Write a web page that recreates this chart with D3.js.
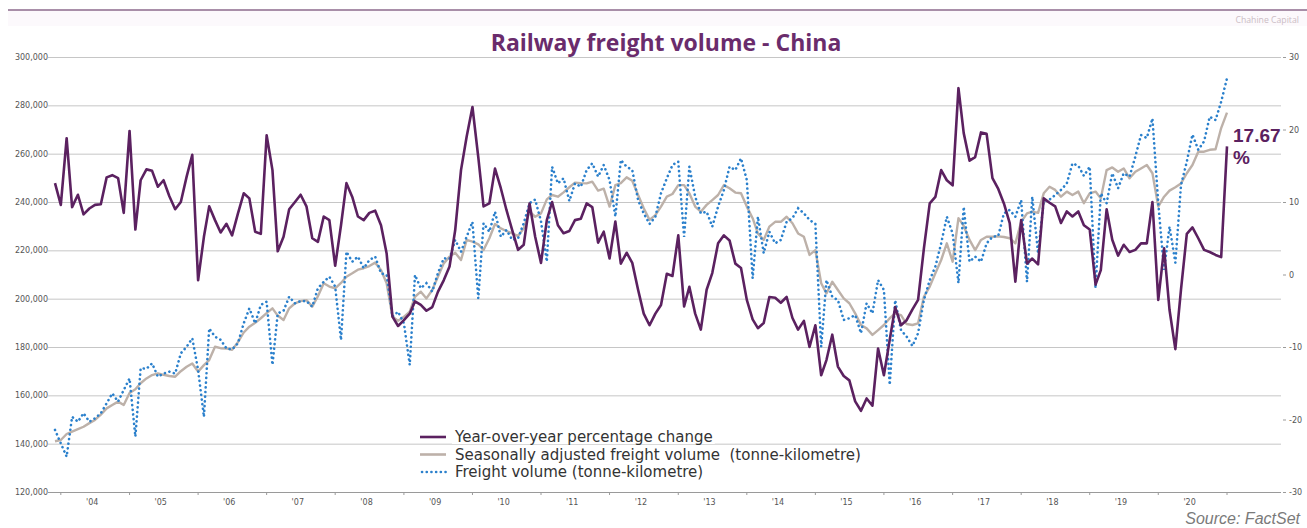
<!DOCTYPE html>
<html>
<head>
<meta charset="utf-8">
<script src="https://cdn.jsdelivr.net/npm/d3@7"></script>
<style>
  html, body { margin: 0; padding: 0; background: #ffffff; }
  svg { display: block; }
  .legend text { white-space: pre; }
</style>
</head>
<body>
<svg id="chart" width="1307" height="528"></svg>
<script>
// Monthly series, first month December 2003
const firstMonth = new Date(2003, 11, 1);

// Year-over-year percentage change (%)
const yoyChange = [
  12.6, 9.6, 18.8, 9.3, 11.0, 8.3, 9.1, 9.6, 9.7, 13.4, 13.7, 13.3,
  8.5, 19.8, 6.2, 13.0, 14.5, 14.3, 12.1, 13.0, 10.8, 9.0, 10.0, 13.5,
  16.5, -0.8, 5.2, 9.4, 7.5, 5.8, 7.0, 5.4, 8.4, 11.2, 10.5, 5.9,
  5.6, 19.2, 14.4, 3.2, 5.2, 9.0, 10.0, 11.0, 9.4, 5.0, 4.5, 8.0,
  7.5, 1.2, 6.8, 12.6, 10.7, 8.0, 7.5, 8.5, 8.8, 6.8, 2.9, -5.8,
  -7.1, -6.3, -5.4, -3.7, -4.2, -5.0, -4.5, -2.4, -0.8, 1.1, 6.1, 14.4,
  19.0, 23.1, 16.2, 9.4, 9.8, 14.6, 11.9, 8.9, 6.1, 3.4, 4.1, 9.8,
  5.2, 1.6, 7.5, 10.0, 6.8, 5.7, 6.0, 7.5, 7.7, 9.8, 9.3, 4.4,
  5.9, 2.2, 7.3, 1.5, 3.0, 1.6, -2.1, -5.4, -7.0, -5.4, -4.2, 0.1,
  -0.2, 5.4, -4.4, -1.7, -5.4, -7.6, -2.1, 0.2, 4.3, 5.4, 4.7, 1.5,
  0.9, -3.5, -6.2, -7.4, -6.7, -3.1, -3.2, -3.9, -3.1, -6.0, -7.6, -6.4,
  -10.0, -7.0, -13.9, -11.8, -8.3, -12.7, -14.0, -14.6, -17.5, -18.8, -17.1, -18.1,
  -10.2, -13.9, -9.0, -4.5, -7.0, -6.3, -4.8, -3.5, 3.6, 9.8, 10.7, 14.4,
  13.0, 12.3, 25.7, 19.5, 15.7, 16.2, 19.6, 19.4, 13.3, 11.8, 9.8, 7.1,
  -1.0, 7.5, 1.5, 2.2, 1.4, 10.5, 9.9, 9.4, 7.1, 8.7, 8.0, 8.7,
  6.8, 6.2, -1.4, 0.6, 9.0, 4.8, 2.6, 4.1, 3.1, 3.4, 4.3, 4.3,
  10.0, -3.5, 3.6, -4.9, -10.3, -2.1, 5.6, 6.5, 5.0, 3.4, 3.1, 2.7,
  2.4, 17.67
];

// Seasonally adjusted freight volume (thousand million tonne-km)
const seasonallyAdjusted = [
  141, 141.5, 144, 145, 146, 147, 148.5, 149.8, 152, 154.6, 156, 157.4,
  156, 161, 162.5, 165, 167, 168.4, 169.1, 168.5, 168, 167.7, 170, 171.8,
  173.2, 169.8, 172.5, 174.6, 180.1, 179.5, 179.4, 178.8, 182, 186, 188.4, 190,
  191.9, 194, 196, 193, 191.2, 196, 198.1, 199, 199.4, 196.7, 201, 206.4,
  205, 204.3, 206.5, 209.1, 210.5, 212, 212.6, 213.5, 214.9, 211.9, 206.4, 192.5,
  190.9, 192.5, 194.6, 200.8, 202.9, 200.1, 203.6, 209.1, 214.6, 217.4, 219.0, 216.0,
  224.3, 223.6, 222.5, 220.1, 225.0, 230.9, 229.1, 228, 227.0, 225.9, 229.1, 236.0,
  233.9, 235.3, 241.1, 242.9, 242.2, 244, 246.1, 248.0, 247.8, 247.7, 248.4, 244.7,
  245.5, 238.1, 247.0, 247.8, 250.2, 248.8, 242.9, 237.4, 232.6, 234.6, 238.1, 242.2,
  243.3, 247.0, 247.0, 243.6, 238.1, 236.0, 238.8, 240.8, 242.9, 247.0, 245.7, 243.9,
  243.6, 238.1, 233.3, 227.0, 224.3, 229.8, 231.8, 231.8, 233.9, 231.2, 227.0, 225.6,
  218.1, 220.1, 206.4, 202.2, 207.0, 203.6, 200.1, 198.1, 193.9, 189.1, 187.7, 185.0,
  187.0, 189.1, 191.9, 193.9, 193.2, 189.5, 189.1, 189.8, 200.8, 205.0, 210.5, 216.0,
  222.9, 215.3, 233.3, 230.1, 224.3, 220.1, 224.3, 225.6, 225.6, 225.8, 225.5, 225.0,
  222.9, 231.8, 235.3, 236.0, 235.5, 243.6, 246.3, 245.0, 242.2, 244.3, 242.9, 244.3,
  239.5, 243.6, 244.3, 241.5, 253.2, 254.3, 252.5, 253.9, 249.8, 252.5, 253.9, 255.3,
  251.9, 238.1, 242.2, 244.7, 246.1, 247.7, 251.9, 255.3, 260.8, 260.8, 261.6, 261.8,
  270.6, 277.0
];

// Freight volume, not adjusted (thousand million tonne-km)
const freightVolume = [
  145.7, 140.1, 134.6, 151.1, 149.1, 152.6, 149.1, 150.5, 152.6, 156.7, 160.8, 157.4,
  162.2, 167.0, 142.9, 171.2, 171, 173.2, 167.7, 169, 169.8, 169, 177.4, 180.1,
  183.6, 170.5, 151.1, 187.7, 184.3, 183, 179.4, 179, 181.5, 189.8, 196.0, 189.8,
  197.4, 198.7, 172.6, 193.9, 195, 200.8, 198.1, 199, 199, 196.7, 204.3, 207.0,
  209.1, 205.0, 182.9, 219.4, 215.3, 217.4, 212.6, 216.0, 217.4, 210.5, 209.8, 192.5,
  194.6, 189.8, 172.6, 209.8, 204.3, 206.4, 202.9, 210.5, 216.7, 216.5, 224.3, 219.4,
  225.6, 231.8, 200.1, 231.2, 227.7, 236.0, 225.6, 228.4, 224.3, 225, 231.2, 239.5,
  241, 232, 215.3, 254.6, 247.7, 249.8, 240.4, 247.7, 246.3, 253.2, 256.0, 250.5,
  255.3, 249.1, 233.9, 257.4, 254.6, 253.2, 240.8, 235.3, 230.9, 233.9, 243.6, 249.8,
  255.3, 256.7, 225.6, 254.6, 242.2, 235.3, 236.0, 229.8, 238.1, 245.0, 254.6, 253.2,
  258.1, 249.1, 208.4, 233.9, 218.8, 227.7, 222.9, 224.3, 231.8, 233.3, 237.4, 235.3,
  232.6, 230.9, 180.1, 207.7, 200.8, 199.4, 191.2, 191.9, 193.2, 185.7, 198.1, 193.9,
  207.7, 203.6, 164.3, 199.4, 187.0, 184.3, 180.4, 185.7, 199.4, 207.7, 213.3, 222.9,
  233.9, 227, 206.4, 238, 215.3, 217.4, 215.3, 222.9, 225.6, 226, 235.3, 236.7,
  233.9, 240.8, 207.0, 242.2, 218.8, 240.4, 241, 242.9, 245, 247.7, 256.0, 255,
  250.8, 254.6, 204.3, 243.6, 239.5, 251.9, 245.7, 251.9, 250.5, 258.8, 267.7, 266.5,
  274.6, 239.5, 211.9, 229.8, 214.9, 247.0, 256.7, 267.9, 261.6, 265.1, 275.3, 273.9,
  281.5, 291.2
];

const leftTicks = [120, 140, 160, 180, 200, 220, 240, 260, 280, 300];
const rightTicks = [-30, -20, -10, 0, 10, 20, 30];
const yearLabels = d3.range(2004, 2021);

const legendItems = [
  { key: "yoy", label: "Year-over-year percentage change" },
  { key: "sa", label: "Seasonally adjusted freight volume  (tonne-kilometre)" },
  { key: "fv", label: "Freight volume (tonne-kilometre)" }
];

const colors = { yoy: "#5b2160", sa: "#bdb1a9", fv: "#2b80cc" };

const months = yoyChange.map((_, i) => d3.timeMonth.offset(firstMonth, i));

const W = 1307, H = 528;
const plot = { left: 52, right: 1281, top: 57, bottom: 492 };

const svg = d3.select("#chart");

// page frame
svg.append("rect").attr("width", W).attr("height", H).attr("fill", "#ffffff");
svg.append("rect").attr("x", 8).attr("y", 10).attr("width", W - 8).attr("height", 16)
  .attr("fill", "#fcf9fc");
svg.append("line").attr("x1", 8).attr("x2", W).attr("y1", 10).attr("y2", 10)
  .attr("stroke", "#8c6a8c").attr("stroke-width", 1.4);

svg.append("text").attr("x", 1299).attr("y", 23).attr("text-anchor", "end")
  .attr("font-family", "Open Sans, sans-serif").attr("font-size", 8.7)
  .attr("fill", "#cbbcc4").text("Chahine Capital");

svg.append("text").attr("x", 666).attr("y", 51).attr("text-anchor", "middle")
  .attr("font-family", "Open Sans, sans-serif").attr("font-weight", 700)
  .attr("font-size", 23).attr("fill", "#6a2c6c")
  .text("Railway freight volume - China");

// scales
const x = d3.scaleTime()
  .domain([months[0], months[months.length - 1]])
  .range([55, 1227]);
const yLeft = d3.scaleLinear().domain([120, 300]).range([plot.bottom, plot.top]);
const yRight = d3.scaleLinear().domain([-30, 30]).range([plot.bottom, plot.top]);

// gridlines and left axis
const leftAxis = d3.axisLeft(yLeft).tickValues(leftTicks)
  .tickSize(-(plot.right - plot.left)).tickPadding(4)
  .tickFormat(d => d3.format(",")(d * 1000));
const gL = svg.append("g").attr("transform", `translate(${plot.left},0)`).call(leftAxis);
gL.select(".domain").remove();
gL.selectAll(".tick line").attr("stroke", "#c6c6c6").attr("stroke-width", 1)
  .attr("x2", plot.right - plot.left).attr("x1", -4);
gL.selectAll(".tick text").attr("font-family", "DejaVu Sans, sans-serif")
  .attr("font-size", 8).attr("fill", "#555555");
gL.selectAll(".tick").filter(d => d === 120).select("line").attr("stroke", "#9a9a9a");

// right axis
const rightAxis = d3.axisRight(yRight).tickValues(rightTicks).tickSize(3).tickPadding(3)
  .tickFormat(d => String(d));
const gR = svg.append("g").attr("transform", `translate(${plot.right + 2},0)`).call(rightAxis);
gR.select(".domain").remove();
gR.selectAll(".tick line").attr("stroke", "#9a9a9a");
gR.selectAll(".tick text").attr("font-family", "DejaVu Sans, sans-serif")
  .attr("font-size", 8).attr("fill", "#555555");

// bottom axis: year ticks with labels mid-year
const xAxisG = svg.append("g").attr("transform", `translate(0,${plot.bottom})`);
const yearStarts = d3.range(2004, 2022).map(y => new Date(y, 0, 1));
xAxisG.selectAll("line.yt").data(yearStarts).join("line")
  .attr("x1", d => x(d)).attr("x2", d => x(d)).attr("y1", 0).attr("y2", 3)
  .attr("stroke", "#9a9a9a");
xAxisG.selectAll("text").data(yearLabels).join("text")
  .attr("x", d => x(new Date(d, 5, 16)))
  .attr("y", 13).attr("text-anchor", "middle")
  .attr("font-family", "DejaVu Sans, sans-serif").attr("font-size", 8)
  .attr("fill", "#555555")
  .text(d => "'" + String(d).slice(2));

// series
svg.append("clipPath").attr("id", "plotclip").append("rect")
  .attr("x", plot.left).attr("y", plot.top - 40).attr("width", plot.right - plot.left)
  .attr("height", plot.bottom - plot.top + 40);

const series = svg.append("g").attr("clip-path", "url(#plotclip)");

const lineLeft = vals => d3.line().x((d, i) => x(months[i])).y(d => yLeft(d))(vals);
const lineRight = vals => d3.line().x((d, i) => x(months[i])).y(d => yRight(d))(vals);

series.append("path").attr("d", lineLeft(seasonallyAdjusted))
  .attr("fill", "none").attr("stroke", colors.sa).attr("stroke-width", 2.4)
  .attr("stroke-linejoin", "round");
series.append("path").attr("d", lineLeft(freightVolume))
  .attr("fill", "none").attr("stroke", colors.fv).attr("stroke-width", 2.6)
  .attr("stroke-dasharray", "0.1 4.6").attr("stroke-linecap", "round");
series.append("path").attr("d", lineRight(yoyChange))
  .attr("fill", "none").attr("stroke", colors.yoy).attr("stroke-width", 2.6)
  .attr("stroke-linejoin", "round");

// last value label
const lastIdx = yoyChange.length - 1;
const lastVal = yoyChange[lastIdx];
const lbl = svg.append("text")
  .attr("x", x(months[lastIdx]) + 6).attr("y", yRight(lastVal) - 4)
  .attr("font-family", "Liberation Sans, Arial, sans-serif").attr("font-weight", 700)
  .attr("font-size", 19).attr("fill", colors.yoy);
lbl.append("tspan").text(lastVal.toFixed(2));
lbl.append("tspan").attr("x", x(months[lastIdx]) + 6).attr("dy", 22).text("%");

// legend
const legend = svg.append("g").attr("class", "legend").attr("transform", "translate(420,430)");
legendItems.forEach((item, i) => {
  const row = legend.append("g").attr("transform", `translate(0,${i * 17.5})`);
  const t = row.append("text").attr("x", 35).attr("y", 12)
    .attr("font-family", "DejaVu Sans, sans-serif").attr("font-size", 15)
    .attr("fill", "#333333").text(item.label);
  const bb = t.node().getBBox();
  row.insert("rect", "text").attr("x", bb.x - 2).attr("y", bb.y + 2)
    .attr("width", bb.width + 4).attr("height", bb.height - 4).attr("fill", "#ffffff");
  const sym = row.append("line").attr("x1", 0).attr("x2", 26).attr("y1", 7).attr("y2", 7)
    .attr("stroke", colors[item.key]).attr("stroke-width", 2.6);
  if (item.key === "fv") sym.attr("stroke-dasharray", "0.1 4.6").attr("stroke-linecap", "round").attr("x1", 2);
});

// source
svg.append("text").attr("x", 1300).attr("y", 524).attr("text-anchor", "end")
  .attr("font-family", "Liberation Sans, Arial, sans-serif").attr("font-style", "italic")
  .attr("font-size", 16).attr("fill", "#7a7a7a").text("Source: FactSet");
</script>
</body>
</html>
